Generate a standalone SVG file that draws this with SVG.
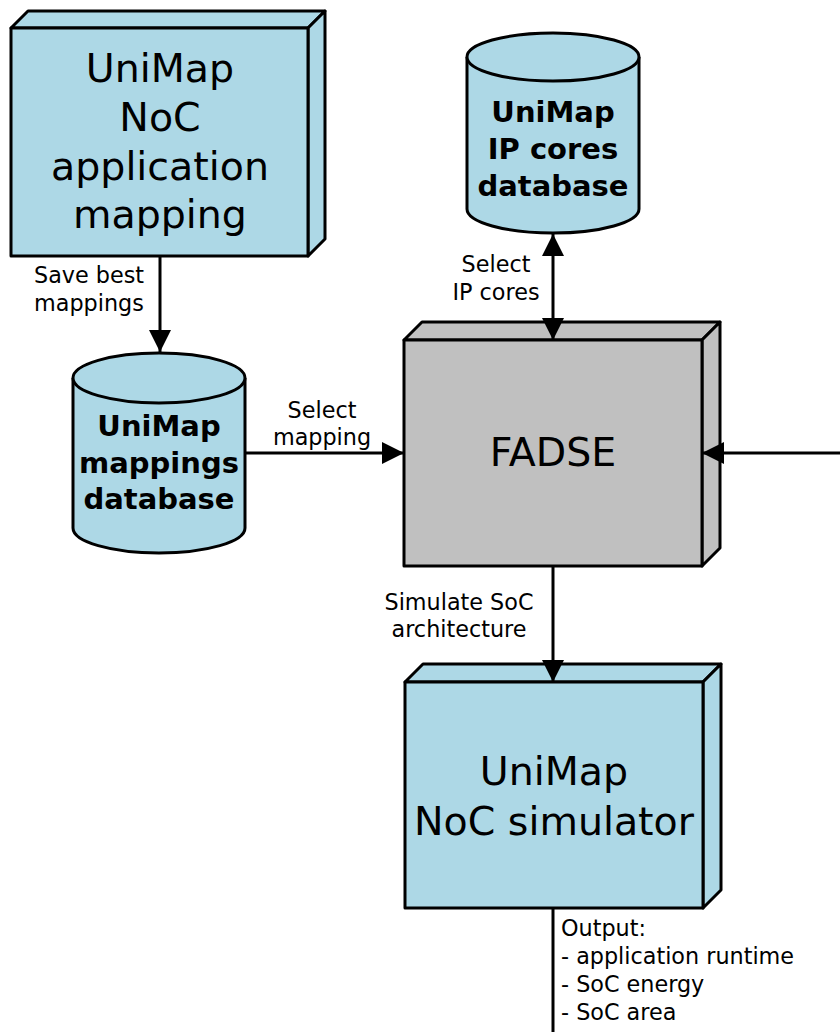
<svg xmlns="http://www.w3.org/2000/svg" width="840" height="1032" viewBox="0 0 840 1032">
<style>
.blue{fill:#add8e6;stroke:#000;stroke-width:3;stroke-linejoin:round}
.gray{fill:#c0c0c0;stroke:#000;stroke-width:3;stroke-linejoin:round}
.big{font-family:"DejaVu Sans",sans-serif;font-size:39.5px;fill:#000;text-anchor:middle}
.bold{font-family:"DejaVu Sans",sans-serif;font-size:29px;font-weight:bold;fill:#000;text-anchor:middle}
.lbl{font-family:"DejaVu Sans",sans-serif;font-size:22.3px;fill:#000;text-anchor:middle}
.lbll{font-family:"DejaVu Sans",sans-serif;font-size:22.3px;fill:#000}
.conn{stroke:#000;stroke-width:3;fill:none}
</style>
<defs>
<marker id="ah" markerUnits="userSpaceOnUse" markerWidth="22" markerHeight="22" refX="20" refY="10" orient="auto-start-reverse" viewBox="0 0 20 20">
<path d="M0,0 L20,10 L0,20 z" fill="#000"/>
</marker>
</defs>
<rect width="840" height="1032" fill="#fff"/>

<g id="node-mapping">
<polygon class="blue" points="11,28 28,11 325,11 308,28"/>
<polygon class="blue" points="308,28 325,11 325,239 308,256"/>
<rect class="blue" x="11" y="28" width="297" height="228"/>
<text class="big" x="160" y="82">UniMap</text>
<text class="big" x="160" y="131">NoC</text>
<text class="big" x="160" y="180">application</text>
<text class="big" x="160" y="228">mapping</text>
</g>

<g id="node-mappings-db">
<path class="blue" d="M73,378 L73,528 A86,25 0 0 0 245,528 L245,378"/>
<ellipse class="blue" cx="159" cy="378" rx="86" ry="25"/>
<text class="bold" x="159" y="436">UniMap</text>
<text class="bold" x="159" y="473">mappings</text>
<text class="bold" x="159" y="509">database</text>
</g>

<g id="node-ipcores-db">
<path class="blue" d="M467,57 L467,209 A86,24 0 0 0 639,209 L639,57"/>
<ellipse class="blue" cx="553" cy="57" rx="86" ry="24"/>
<text class="bold" x="553" y="122">UniMap</text>
<text class="bold" x="553" y="159">IP cores</text>
<text class="bold" x="553" y="196">database</text>
</g>

<g id="node-fadse">
<polygon class="gray" points="404,340 422,322 720,322 702,340"/>
<polygon class="gray" points="702,340 720,322 720,548 702,566"/>
<rect class="gray" x="404" y="340" width="298" height="226"/>
<text class="big" x="553" y="466">FADSE</text>
</g>

<g id="node-simulator">
<polygon class="blue" points="405,682 423,664 721,664 703,682"/>
<polygon class="blue" points="703,682 721,664 721,890 703,908"/>
<rect class="blue" x="405" y="682" width="298" height="226"/>
<text class="big" x="554" y="785">UniMap</text>
<text class="big" x="554" y="835">NoC simulator</text>
</g>

<g id="connectors">
<line class="conn" x1="160" y1="257" x2="160" y2="352" marker-end="url(#ah)"/>
<line class="conn" x1="245" y1="453" x2="404" y2="453" marker-end="url(#ah)"/>
<line class="conn" x1="553" y1="234" x2="553" y2="340" marker-start="url(#ah)" marker-end="url(#ah)"/>
<line class="conn" x1="840" y1="453" x2="702" y2="453" marker-end="url(#ah)"/>
<line class="conn" x1="553" y1="567" x2="553" y2="682" marker-end="url(#ah)"/>
<line class="conn" x1="553" y1="909" x2="553" y2="1032"/>
<text class="lbll" x="34" y="283">Save best</text>
<text class="lbll" x="34" y="311">mappings</text>
<text class="lbl" x="322" y="418">Select</text>
<text class="lbl" x="322" y="445">mapping</text>
<text class="lbl" x="496" y="272">Select</text>
<text class="lbl" x="496" y="300">IP cores</text>
<text class="lbl" x="459" y="610">Simulate SoC</text>
<text class="lbl" x="459" y="637">architecture</text>
<text class="lbll" x="561" y="936">Output:</text>
<text class="lbll" x="561" y="964">- application runtime</text>
<text class="lbll" x="561" y="992">- SoC energy</text>
<text class="lbll" x="561" y="1020">- SoC area</text>
</g>
</svg>
